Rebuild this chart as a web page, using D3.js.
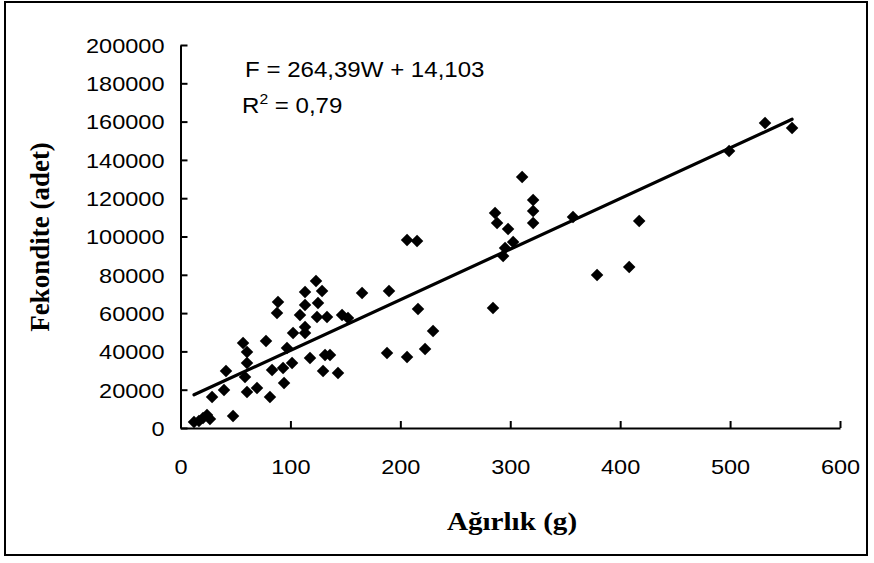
<!DOCTYPE html>
<html>
<head>
<meta charset="utf-8">
<script src="https://cdn.jsdelivr.net/npm/d3@7"></script>
<style>
  html, body { margin: 0; padding: 0; background: #fff; }
  svg { display: block; }
</style>
</head>
<body>
<svg id="chart" width="874" height="563"></svg>
<script>
// Weight (g)
const weights = [
  12.3, 16.8, 20.5, 24.1, 26.8, 47.8, 28.7, 39.6, 41.4, 58.7,
  60.5, 69.6, 81.4, 56.9, 60.5, 60.5, 77.8, 83.3, 93.3, 94.2,
  96.9, 101.5, 88.7, 87.8, 102.4, 113.3, 113.3, 108.7, 113.3, 113.3,
  123.3, 128.8, 125.1, 124.2, 133.3, 147.0, 152.4, 117.8, 131.5, 136.0,
  129.7, 143.3, 165.2, 189.7, 187.9, 206.1, 206.1, 215.2, 216.1, 222.5,
  229.8, 284.3, 286.2, 288.0, 298.0, 293.5, 295.3, 302.6, 310.8, 320.8,
  320.8, 320.8, 357.1, 379.0, 408.2, 417.3, 499.1, 531.8, 556.4
];
// Fecundity (count)
const fecundity = [
  3100, 3700, 5200, 6800, 4700, 6300, 16200, 19800, 29800, 26600,
  18800, 20900, 16200, 44400, 39700, 33900, 45400, 30300, 31300, 23500,
  41800, 33900, 65800, 60100, 49600, 52700, 49600, 59000, 64200, 71000,
  76800, 71500, 65300, 58000, 58000, 59000, 57400, 36600, 38100, 38100,
  29800, 28700, 70500, 71500, 39200, 37100, 98200, 97700, 62100, 41300,
  50700, 62700, 112300, 107000, 103900, 89800, 94000, 97100, 131100, 119100,
  113300, 107000, 110200, 79900, 84100, 108100, 144600, 159300, 156700
];
const xTicks = [0, 100, 200, 300, 400, 500, 600];
const yTicks = [0, 20000, 40000, 60000, 80000, 100000, 120000, 140000, 160000, 180000, 200000];
const slope = 264.39, intercept = 14103;
const trendRange = [12.3, 556.4];
const eqLabel = "F = 264,39W + 14,103";
const xTitle = "Ağırlık (g)";
const yTitle = "Fekondite (adet)";

const svg = d3.select("#chart");
const x = d3.scaleLinear().domain([0, 600]).range([180.5, 840]);
const y = d3.scaleLinear().domain([0, 200000]).range([428, 45]);
const SX = 1.12; // horizontal stretch of the original text

function stretch(sel, k) {
  sel.each(function () {
    const L = this.getComputedTextLength();
    d3.select(this).attr("textLength", L * k).attr("lengthAdjust", "spacingAndGlyphs");
  });
}

// outer border
svg.append("rect").attr("x", 5).attr("y", 2).attr("width", 862).attr("height", 553)
  .attr("fill", "#fff").attr("stroke", "#000").attr("stroke-width", 2);

const tickFont = "'Liberation Sans', Arial, sans-serif";
const serif = "'Liberation Serif', 'Times New Roman', serif";

// x axis
const xAxis = svg.append("g").attr("transform", `translate(0,${y(0)})`)
  .call(d3.axisBottom(x).tickValues(xTicks).tickSizeInner(-7).tickSizeOuter(0).tickFormat(d3.format("d")));
// y axis
const yAxis = svg.append("g").attr("transform", `translate(${x(0)},0)`)
  .call(d3.axisLeft(y).tickValues(yTicks).tickSizeInner(-7).tickSizeOuter(0).tickPadding(16).tickFormat(d3.format("d")));

[xAxis, yAxis].forEach(g => {
  g.select(".domain").attr("stroke", "#000").attr("stroke-width", 2);
  g.selectAll(".tick line").attr("stroke", "#000").attr("stroke-width", 2);
  g.selectAll(".tick text").attr("fill", "#000").style("font-family", tickFont).style("font-size", "21px");
});
xAxis.selectAll(".tick text").attr("dy", "0.35em").attr("y", 39);
yAxis.selectAll(".tick text").attr("dy", "0.35em");
stretch(xAxis.selectAll(".tick text"), SX);
stretch(yAxis.selectAll(".tick text"), SX);

// trend line
svg.append("line")
  .attr("x1", x(trendRange[0])).attr("y1", y(slope * trendRange[0] + intercept))
  .attr("x2", x(trendRange[1])).attr("y2", y(slope * trendRange[1] + intercept))
  .attr("stroke", "#000").attr("stroke-width", 3.2).attr("stroke-linecap", "round");

// points
const pts = weights.map((w, i) => ({ w, f: fecundity[i] }));
svg.append("g").selectAll("path").data(pts).join("path")
  .attr("d", d3.symbol().type(d3.symbolSquare).size(78))
  .attr("transform", d => `translate(${x(d.w)},${y(d.f)}) rotate(45)`)
  .attr("fill", "#000");

// equation
svg.append("g").attr("transform", `translate(245,77) scale(${SX},1)`)
  .append("text").style("font-family", tickFont).style("font-size", "21.5px").text(eqLabel);
const r2 = svg.append("g").attr("transform", `translate(242,113) scale(${SX},1)`)
  .append("text").style("font-family", tickFont).style("font-size", "21.5px");
r2.append("tspan").text("R");
r2.append("tspan").attr("dy", -9).style("font-size", "14px").text("2");
r2.append("tspan").attr("dy", 9).text(" = 0,79");

// axis titles
const xt = svg.append("text").attr("x", 512).attr("y", 530).attr("text-anchor", "middle")
  .style("font-family", serif).style("font-weight", "bold").style("font-size", "26px")
  .text(xTitle);
stretch(xt, SX);
svg.append("text").attr("transform", "translate(49,237) rotate(-90)").attr("text-anchor", "middle")
  .style("font-family", serif).style("font-weight", "bold").style("font-size", "27px")
  .text(yTitle);
</script>
</body>
</html>
